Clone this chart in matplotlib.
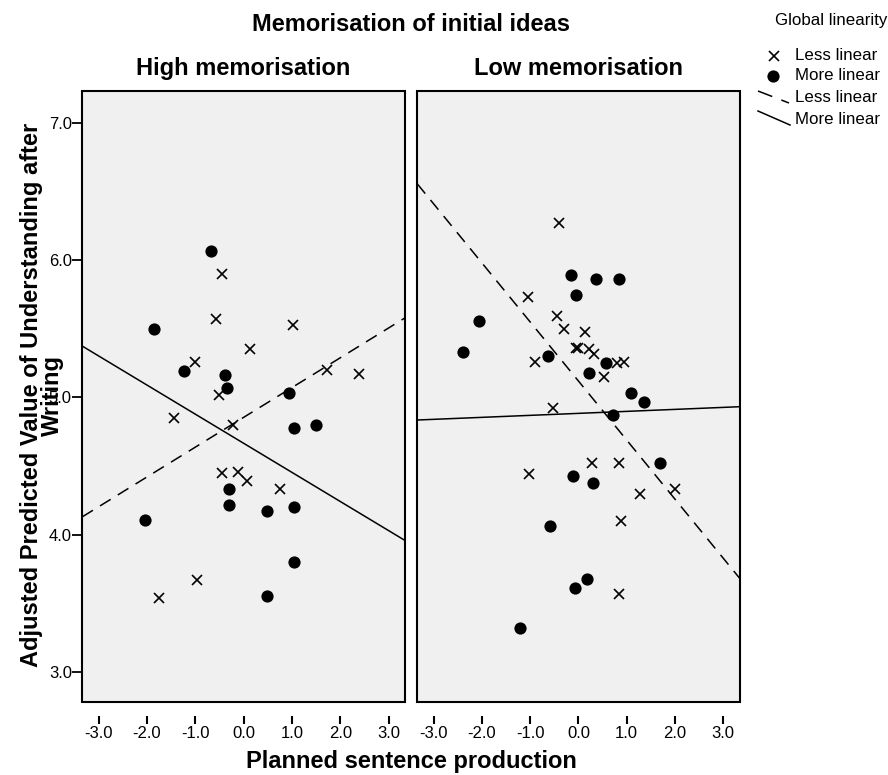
import numpy as np
import matplotlib
matplotlib.use("Agg")
import matplotlib.pyplot as plt
from matplotlib.lines import Line2D
from matplotlib.patches import Rectangle

plt.rcParams['font.family'] = ['Liberation Sans', 'DejaVu Sans']
plt.rcParams['axes.unicode_minus'] = False
plt.rcParams['lines.scale_dashes'] = False

# ---------------- data ----------------
panel_titles = ["High memorisation", "Low memorisation"]
main_title = "Memorisation of initial ideas"
x_label = "Planned sentence production"
y_label = "Adjusted Predicted Value of Understanding after\nWriting"
legend_title = "Global linearity"
legend_labels = ["Less linear", "More linear", "Less linear", "More linear"]

x_ticks = [-3, -2, -1, 0, 1, 2, 3]
x_tick_labels = ["-3.0", "-2.0", "-1.0", "0.0", "1.0", "2.0", "3.0"]
y_ticks = [3, 4, 5, 6, 7]
y_tick_labels = ["3.0", "4.0", "5.0", "6.0", "7.0"]

# High memorisation – less linear (x markers)
high_less_x = [-0.44, -0.58, 1.03, 0.13, -1.00, -0.52, 1.72, 2.39, -1.44, -0.22,
               -0.45, -0.11, 0.07, 0.76, -0.96, -1.75]
high_less_y = [5.90, 5.57, 5.53, 5.35, 5.26, 5.02, 5.20, 5.17, 4.85, 4.80,
               4.45, 4.46, 4.39, 4.33, 3.67, 3.54]
# High memorisation – more linear (dots)
high_more_x = [-0.68, -1.85, -1.23, -0.38, -0.35, 0.93, 1.05, 1.49, -0.30, -0.30,
               0.48, 1.04, -2.05, 1.05, 0.48]
high_more_y = [6.07, 5.50, 5.19, 5.16, 5.07, 5.03, 4.78, 4.80, 4.33, 4.22,
               4.17, 4.20, 4.11, 3.80, 3.55]
# Low memorisation – less linear
low_less_x = [-0.40, -1.05, -0.45, -0.30, 0.14, -0.05, 0.00, 0.23, 0.33, -0.90,
              0.80, 0.95, 0.53, -0.53, -1.02, 0.29, 0.84, 1.27, 2.01, 0.89, 0.85]
low_less_y = [6.27, 5.73, 5.59, 5.50, 5.48, 5.36, 5.36, 5.35, 5.32, 5.26,
              5.25, 5.26, 5.15, 4.92, 4.44, 4.52, 4.52, 4.30, 4.33, 4.10, 3.57]
# Low memorisation – more linear
low_more_x = [-0.15, 0.36, 0.84, -0.06, -2.06, -2.39, -0.63, 0.57, 0.21, 1.09,
              1.36, 0.72, 1.70, -0.12, 0.30, -0.59, 0.18, -0.08, -1.22]
low_more_y = [5.89, 5.86, 5.86, 5.75, 5.56, 5.33, 5.30, 5.25, 5.18, 5.03,
              4.97, 4.87, 4.52, 4.43, 4.38, 4.06, 3.68, 3.61, 3.32]

# fit lines (intercept, slope) per panel
less_intercepts = [4.855, 5.12]
less_slopes = [0.217, -0.430]
more_intercepts = [4.666, 4.884]
more_slopes = [-0.212, 0.0145]

panels = [
    (high_less_x, high_less_y, high_more_x, high_more_y),
    (low_less_x, low_less_y, low_more_x, low_more_y),
]

# ---------------- figure ----------------
W, H = 888, 775
fig = plt.figure(figsize=(W / 100, H / 100), dpi=100)
fig.patch.set_facecolor('white')

def fx(px):
    return px / W

def fy(py):
    return 1 - py / H

XLIM = (-3.34, 3.34)
YLIM = (2.781, 7.235)
bg = '#f0f0f0'
DASH = (9, 6)

ax_rects = [
    [fx(82.3), fy(702), (405 - 82.3) / W, (702 - 90.7) / H],
    [fx(417.3), fy(702), (739.5 - 417.3) / W, (702 - 90.7) / H],
]

axes = []
for i, rect in enumerate(ax_rects):
    ax = fig.add_axes(rect)
    ax.set_facecolor(bg)
    lx, ly, mx, my = panels[i]
    ax.plot(lx, ly, linestyle='none', marker='x', markersize=7,
            markeredgewidth=1.2, color='black', zorder=3)
    ax.plot(mx, my, linestyle='none', marker='o', markersize=8.8,
            color='black', markeredgewidth=0, zorder=3)
    xs = np.array(XLIM)
    ax.plot(xs, less_intercepts[i] + less_slopes[i] * xs, color='black',
            lw=1.1, dashes=DASH, zorder=2)
    ax.plot(xs, more_intercepts[i] + more_slopes[i] * xs, color='black',
            lw=1.1, zorder=2)
    ax.set_xlim(XLIM)
    ax.set_ylim(YLIM)
    for s in ax.spines.values():
        s.set_visible(False)
    ax.spines['bottom'].set_position(('outward', 10))
    ax.add_patch(Rectangle((0, 0), 1, 1, transform=ax.transAxes, fill=False,
                           lw=1.5, edgecolor='black', clip_on=False, zorder=5))
    ax.set_xticks(x_ticks)
    ax.set_xticklabels(x_tick_labels)
    ax.tick_params(axis='x', direction='out', length=5.5, width=1.5,
                   labelsize=12, pad=1.5, color='black')
    if i == 0:
        ax.set_yticks(y_ticks)
        ax.set_yticklabels(y_tick_labels)
        ax.tick_params(axis='y', direction='out', length=7, width=1.3,
                       labelsize=12, pad=0.5)
    else:
        ax.set_yticks([])
    ax.set_title(panel_titles[i], fontsize=17, fontweight='bold', pad=11)
    axes.append(ax)

# overall titles
fig.text(fx(411), fy(31), main_title, ha='center', va='baseline',
         fontsize=17, fontweight='bold')
fig.text(fx(411), fy(768), x_label, ha='center', va='baseline',
         fontsize=17, fontweight='bold')
fig.text(fx(42), fy(395), y_label, ha='center', va='center', rotation=90,
         multialignment='center', fontsize=17, fontweight='bold',
         linespacing=0.85)

# legend
fig.text(fx(831), fy(20), legend_title, ha='center', va='center', fontsize=12.2)
row_y = [56, 76, 98, 119]
text_x = 795
fig.add_artist(Line2D([fx(774)], [fy(row_y[0])], marker='x', markersize=7,
                      markeredgewidth=1.2, color='black', linestyle='none'))
fig.add_artist(Line2D([fx(773)], [fy(row_y[1])], marker='o', markersize=8.8,
                      markeredgewidth=0, color='black', linestyle='none'))
fig.add_artist(Line2D([fx(758), fx(789)], [fy(91), fy(103)], color='black',
                      lw=1.1, dashes=(11, 7)))
fig.add_artist(Line2D([fx(758), fx(790)], [fy(111), fy(125)], color='black',
                      lw=1.1))
for lab, yy in zip(legend_labels, row_y):
    fig.text(fx(text_x), fy(yy), lab, ha='left', va='center', fontsize=12.2)

fig.savefig('out.png', dpi=100, facecolor='white')
